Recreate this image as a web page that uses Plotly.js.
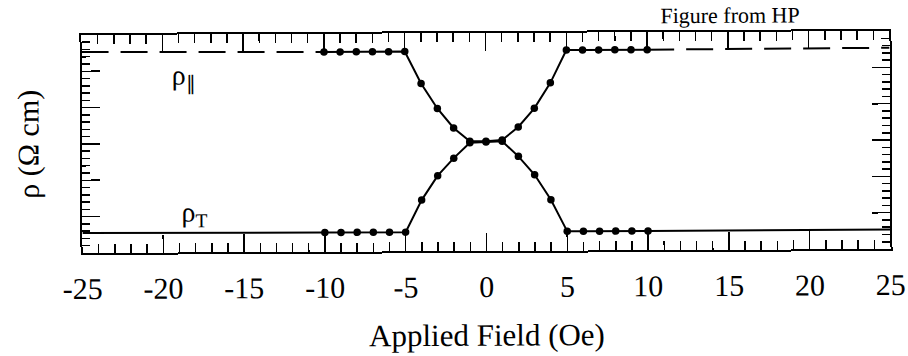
<!DOCTYPE html>
<html>
<head>
<meta charset="utf-8">
<script src="https://cdn.plot.ly/plotly-3.0.1.min.js"></script>
<style>
  html, body { margin: 0; padding: 0; background: #fff; overflow: hidden; }
  /* the printed figure sits with a slight counter-clockwise tilt */
  #chart { width: 908px; height: 356px; transform: rotate(-0.28deg); transform-origin: 486px 142px; }
</style>
</head>
<body>
<div id="chart"></div>
<script>
// Applied field (Oe) at which resistivity was measured
const fieldOe = [-10, -9, -8, -7, -6, -5, -4, -3, -2, -1, 0, 1, 2, 3, 4, 5, 6, 7, 8, 9, 10];

// resistivity, field parallel to current (arbitrary units)
const rhoParallel = [5.50, 5.50, 5.50, 5.50, 5.50, 5.50, 4.62, 3.93, 3.39, 3.02, 3.02, 3.05,
                     3.41, 3.92, 4.62, 5.52, 5.52, 5.52, 5.52, 5.52, 5.52];

// resistivity, field transverse to current (arbitrary units)
const rhoTransverse = [0.53, 0.53, 0.53, 0.53, 0.53, 0.53, 1.41, 2.08, 2.56, 2.98, 3.00, 3.02,
                       2.60, 2.09, 1.40, 0.53, 0.53, 0.53, 0.53, 0.53, 0.53];

// saturated levels drawn out to the ends of the field range
const tailLeftX = [-25, -10];
const tailRightX = [10, 25];
const parallelTailLeft = [5.53, 5.50];
const parallelTailRight = [5.52, 5.54];
const transverseTailLeft = [0.55, 0.53];
const transverseTailRight = [0.53, 0.54];

// x tick labels (printed with plain hyphens)
const xTickVals = [-25, -20, -15, -10, -5, 0, 5, 10, 15, 20, 25];
const xTickText = ['-25', '-20', '-15', '-10', '-5', '0', '5', '10', '15', '20', '25'];

const ink = '#000';
const serif = 'Liberation Serif, Times New Roman, serif';

const tail = (x, y, dash) => ({
  x: x, y: y, mode: 'lines', hoverinfo: 'skip', showlegend: false,
  line: { color: ink, width: 2, dash: dash }
});

const traces = [
  tail(tailLeftX, parallelTailLeft, '27px,12px'),
  tail(tailRightX, parallelTailRight, '27px,12px'),
  tail(tailLeftX, transverseTailLeft, 'solid'),
  tail(tailRightX, transverseTailRight, 'solid'),
  {
    x: fieldOe, y: rhoParallel, mode: 'lines+markers', showlegend: false,
    line: { color: ink, width: 2 },
    marker: { color: ink, size: 7.5, symbol: 'circle' }
  },
  {
    x: fieldOe, y: rhoTransverse, mode: 'lines+markers', showlegend: false,
    line: { color: ink, width: 2 },
    marker: { color: ink, size: 7.5, symbol: 'circle' }
  }
];

const layout = {
  width: 908, height: 356,
  margin: { l: 82, r: 18, t: 33, b: 105 },
  paper_bgcolor: '#fff', plot_bgcolor: '#fff',
  font: { family: serif, color: ink },
  showlegend: false,
  xaxis: {
    range: [-25, 25],
    tickmode: 'array', tickvals: xTickVals, ticktext: xTickText,
    ticks: 'inside', ticklen: 18, tickwidth: 1.5, tickcolor: ink,
    minor: { tickmode: 'linear', tick0: 0, dtick: 1, ticks: 'inside', ticklen: 9, tickwidth: 1.5, tickcolor: ink, showgrid: false },
    showline: true, linewidth: 2, linecolor: ink, mirror: 'ticks',
    showgrid: false, zeroline: false,
    tickfont: { family: serif, size: 30, color: ink },
    ticklabelstandoff: 8,
    title: { text: 'Applied Field (Oe)', font: { family: serif, size: 31, color: ink }, standoff: 22 }
  },
  yaxis: {
    range: [0, 6],
    tickmode: 'linear', tick0: 0, dtick: 1,
    showticklabels: false,
    ticks: 'inside', ticklen: 18, tickwidth: 1.5, tickcolor: ink,
    minor: { tickmode: 'linear', tick0: 0, dtick: 0.2, ticks: 'inside', ticklen: 8, tickwidth: 1.5, tickcolor: ink, showgrid: false },
    showline: true, linewidth: 2, linecolor: ink, mirror: 'ticks',
    showgrid: false, zeroline: false,
    title: { text: 'ρ (Ω cm)', font: { family: serif, size: 30, color: ink }, standoff: 32 }
  },
  annotations: [
    { text: 'Figure from HP', xref: 'paper', yref: 'paper', x: 0.802, y: 1.075,
      xanchor: 'center', yanchor: 'middle', showarrow: false,
      font: { family: serif, size: 22, color: ink } },
    { text: 'ρ<sub>∥</sub>', xref: 'x', yref: 'y', x: -18.7, y: 4.82,
      xanchor: 'center', yanchor: 'middle', showarrow: false,
      font: { family: serif, size: 28, color: ink } },
    { text: 'ρ<sub>T</sub>', xref: 'x', yref: 'y', x: -18.1, y: 1.06,
      xanchor: 'center', yanchor: 'middle', showarrow: false,
      font: { family: serif, size: 28, color: ink } }
  ]
};

Plotly.newPlot('chart', traces, layout, { displayModeBar: false, staticPlot: true });
</script>
</body>
</html>
